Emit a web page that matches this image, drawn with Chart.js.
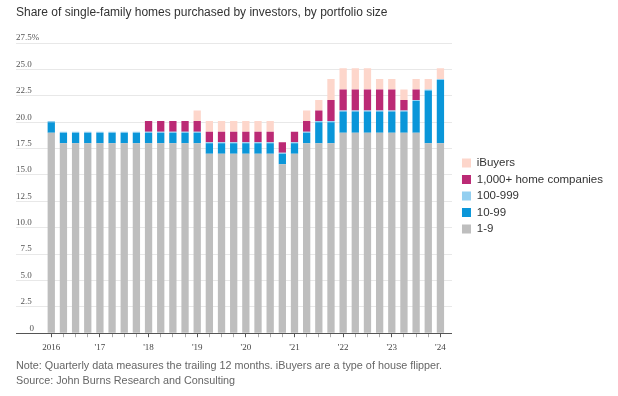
<!DOCTYPE html>
<html>
<head>
<meta charset="utf-8">
<script src="https://cdn.jsdelivr.net/npm/chart.js@4.4.1/dist/chart.umd.min.js"></script>
<style>
  body { margin: 0; background: #fff; }
  #wrap { position: relative; width: 618px; height: 396px; overflow: hidden; }
  #chart { position: absolute; left: 0; top: 0; }
  #title { position: absolute; left: 16px; top: 5px; font: 12px "Liberation Sans", Arial, sans-serif; color: #333; white-space: nowrap; }
  #notes { position: absolute; left: 16px; top: 358px; font: 10.8px "Liberation Sans", Arial, sans-serif; color: #666; line-height: 15px; white-space: nowrap; }
</style>
</head>
<body>
<div id="wrap">
  <canvas id="chart" width="618" height="396"></canvas>
  <div id="title">Share of single-family homes purchased by investors, by portfolio size</div>
  <div id="notes">Note: Quarterly data measures the trailing 12 months. iBuyers are a type of house flipper.<br>Source: John Burns Research and Consulting</div>
</div>
<script>
// quarters, 2016 Q1 .. 2024 Q1
var quarters = ['2016 Q1','2016 Q2','2016 Q3','2016 Q4','2017 Q1','2017 Q2','2017 Q3','2017 Q4',
  '2018 Q1','2018 Q2','2018 Q3','2018 Q4','2019 Q1','2019 Q2','2019 Q3','2019 Q4',
  '2020 Q1','2020 Q2','2020 Q3','2020 Q4','2021 Q1','2021 Q2','2021 Q3','2021 Q4',
  '2022 Q1','2022 Q2','2022 Q3','2022 Q4','2023 Q1','2023 Q2','2023 Q3','2023 Q4','2024 Q1'];
var yearLabels = ['2016', "'17", "'18", "'19", "'20", "'21", "'22", "'23", "'24"];
var yTickLabels = ['0', '2.5', '5.0', '7.5', '10.0', '12.5', '15.0', '17.5', '20.0', '22.5', '25.0', '27.5%'];

// share of purchases (%), by portfolio size
var small = [19,18,18,18,18,18,18,18,18,18,18,18,18,17,17,17,17,17,17,16,17,18,18,18,19,19,19,19,19,19,19,18,18];
var mid = [1,1,1,1,1,1,1,1,1,1,1,1,1,1,1,1,1,1,1,1,1,1,2,2,2,2,2,2,2,2,3,5,6];
var large = [0.1,0.1,0.1,0.1,0.1,0.1,0.1,0.1,0.1,0.1,0.1,0.1,0.1,0.1,0.1,0.1,0.1,0.1,0.1,0.1,0.1,0.1,0.1,0.1,0.1,0.1,0.1,0.1,0.1,0.1,0.1,0.1,0.1];
var huge = [0,0,0,0,0,0,0,0,1,1,1,1,1,1,1,1,1,1,1,1,1,1,1,2,2,2,2,2,2,1,1,0,0];
var ibuyers = [0,0,0,0,0,0,0,0,0,0,0,0,1,1,1,1,1,1,1,0,0,1,1,2,2,2,2,1,1,1,1,1,1];

function pts(arr) {
	return arr.map(function(v, i) { return { x: i, y: v }; });
}

var serif = '"Liberation Serif", "Times New Roman", serif';
var sans = '"Liberation Sans", Arial, sans-serif';

var ctx = document.getElementById('chart').getContext('2d');

var chart = new Chart(ctx, {
	type: 'bar',
	data: {
		datasets: [
			{ label: '1-9', data: pts(small), backgroundColor: '#bebebe' },
			{ label: '10-99', data: pts(mid), backgroundColor: '#0a96d9' },
			{ label: '100-999', data: pts(large), backgroundColor: '#93cff0' },
			{ label: '1,000+ home companies', data: pts(huge), backgroundColor: '#bb2a75' },
			{ label: 'iBuyers', data: pts(ibuyers), backgroundColor: '#fdd6cb' }
		]
	},
	options: {
		responsive: false,
		animation: false,
		devicePixelRatio: 1,
		datasets: { bar: { barPercentage: 0.6, categoryPercentage: 1, borderWidth: 0 } },
		layout: { padding: { left: 16, right: 5, top: 43, bottom: 38 } },
		plugins: {
			tooltip: { enabled: false },
			legend: {
				position: 'right',
				align: 'center',
				fullSize: false,
				reverse: true,
				maxWidth: 220,
				title: { display: true, text: ' ', padding: 0, font: { size: 16, lineHeight: 1 } },
				labels: { boxWidth: 9, boxHeight: 9, padding: 5, color: '#333', font: { family: sans, size: 11.5 } }
			}
		},
		scales: {
			x: {
				type: 'linear',
				min: -2.9,
				max: 32.95,
				bounds: 'data',
				offset: false,
				stacked: true,
				afterBuildTicks: function(s) {
					s.ticks = quarters.map(function(q, i) { return { value: i }; });
				},
				ticks: {
					autoSkip: false,
					maxRotation: 0,
					padding: 5,
					color: '#444',
					font: { family: serif, size: 9 },
					callback: function(v) { return v % 4 === 0 ? yearLabels[v / 4] : ''; }
				},
				grid: {
					offset: false,
					drawOnChartArea: false,
					tickLength: 4,
					tickColor: function(c) { return c.tick && c.tick.value % 4 === 0 ? '#555' : '#aaa'; }
				},
				border: { display: true, color: '#555', width: 1 }
			},
			y: {
				stacked: true,
				min: 0,
				max: 27.5,
				afterFit: function(s) { s.width = 0; },
				ticks: {
					stepSize: 2.5,
					mirror: true,
					padding: 0,
					labelOffset: -5,
					crossAlign: 'near',
					color: '#555',
					font: { family: serif, size: 9 },
					callback: function(v, i) { return yTickLabels[i].length < 4 ? yTickLabels[i].padStart(4, '\u2007') : yTickLabels[i]; }
				},
				grid: { color: '#e8e8e8', drawTicks: false },
				border: { display: false }
			},
			gap: {
				position: 'right',
				display: true,
				grid: { display: false, drawTicks: false },
				ticks: { display: false },
				border: { display: false },
				afterFit: function(s) { s.width = 5; }
			}
		}
	}
});
</script>
</body>
</html>
